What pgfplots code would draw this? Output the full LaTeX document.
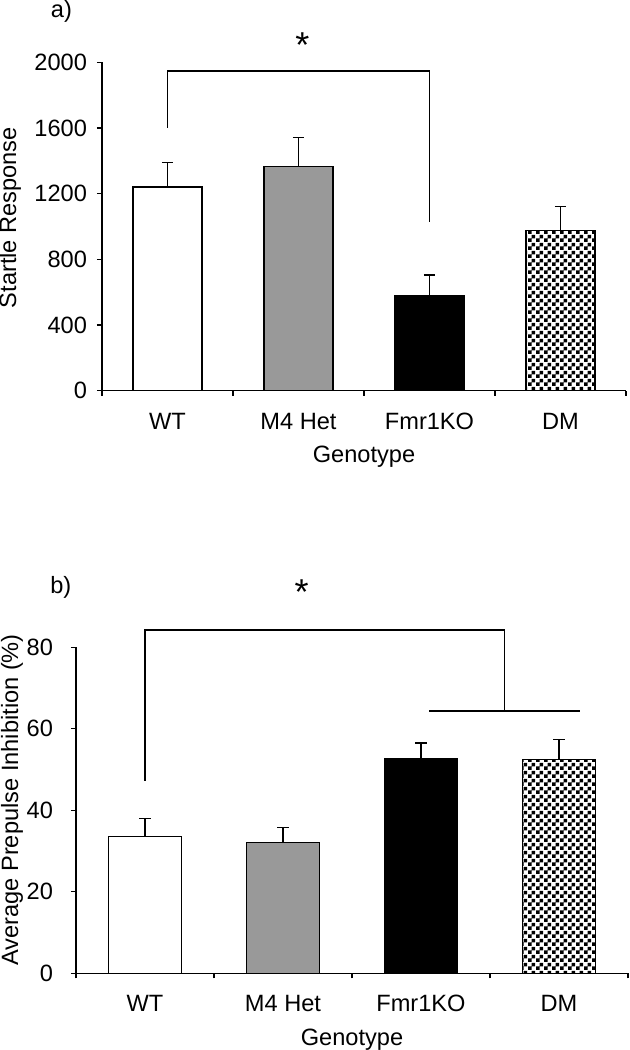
\documentclass[border=0pt]{standalone}
\usepackage{fontspec}
\setmainfont{Liberation Sans}
\usepackage{pgfplots}
\pgfplotsset{compat=1.18}
\usetikzlibrary{patterns}

% small checkerboard, 2pt squares
\pgfdeclarepatternformonly{checker}{\pgfpointorigin}{\pgfqpoint{4pt}{4pt}}{\pgfqpoint{4pt}{4pt}}{%
  \pgfpathrectangle{\pgfpointorigin}{\pgfqpoint{2pt}{2pt}}%
  \pgfpathrectangle{\pgfqpoint{2pt}{2pt}}{\pgfqpoint{2pt}{2pt}}%
  \pgfusepath{fill}}

\definecolor{hetgray}{RGB}{153,153,153}
\newcommand{\lblfont}{\fontsize{11.8}{13}\selectfont}
\newcommand{\starfont}{\fontsize{18}{18}\selectfont}

\pgfplotsset{
  geno/.style={
    scale only axis, ybar, bar width=0.525, bar shift=0pt,
    xmin=-0.5, xmax=3.5, ymin=0,
    axis x line=bottom, axis y line=left,
    axis line style={-, line width=0.6pt},
    xtick={-0.5,0.5,1.5,2.5,3.5}, x tick label as interval,
    xticklabels={WT,M4 Het,Fmr1KO,DM},
    tick align=outside, major tick length=2.5pt,
    tick style={black, line width=0.6pt},
    tick label style={font=\lblfont},
    xticklabel style={yshift=-5pt},
    label style={font=\lblfont},
    /pgf/number format/assume math mode=true,
    /pgf/number format/1000 sep={},
    xlabel={Genotype},
    xlabel style={yshift=-1.5pt},
    error bars/y dir=plus, error bars/y explicit,
    error bars/error bar style={line width=0.65pt, black},
    error bars/error mark options={rotate=90, mark size=2.8pt, line width=0.65pt, black},
    clip=false,
    every axis plot/.append style={draw=black, line width=0.65pt},
  }
}

\begin{document}
\begin{tikzpicture}
\useasboundingbox (0,0) rectangle (314.5pt,-525pt);

% a) startle response
\begin{axis}[geno,
    at={(51pt,-195.35pt)}, anchor=south west,
    width=262pt, height=164.2pt,
    ymax=2000, ytick={0,400,...,2000},
    yticklabel style={xshift=-1.5pt},
    ylabel={Startle Response},
    ylabel style={at={(axis description cs:-0.1756,0.527)}, anchor=center},
]
\addplot[fill=white]   coordinates {(0,1240) +- (0,151)};
\addplot[fill=hetgray] coordinates {(1,1364) +- (0,177)};
\addplot[fill=black]   coordinates {(2,577) +- (0,127)};
\addplot[pattern=checker] coordinates {(3,974) +- (0,147)};
\draw[line width=0.65pt] (axis cs:0,1602) -- (axis cs:0,1947) -- (axis cs:2,1947) -- (axis cs:2,1027);
\node[font=\starfont, anchor=base, inner sep=0pt] at (axis cs:1.03,2028) {*};
\node[font=\lblfont] at (axis cs:-0.81,2308) {a)};
\end{axis}

% b) prepulse inhibition
\begin{axis}[geno,
    at={(38pt,-486.65pt)}, anchor=south west,
    width=276pt, height=163pt,
    ymax=80, ytick={0,20,...,80},
    yticklabel style={xshift=-5.5pt},
    ylabel={Average Prepulse Inhibition (\%)},
    ylabel style={at={(axis description cs:-0.116,0.532)}, anchor=center},
]
\addplot[fill=white]   coordinates {(0,33.5) +- (0,4.5)};
\addplot[fill=hetgray] coordinates {(1,32.1) +- (0,3.7)};
\addplot[fill=black]   coordinates {(2,52.8) +- (0,3.7)};
\addplot[pattern=checker] coordinates {(3,52.4) +- (0,4.9)};
\draw[line width=0.65pt] (axis cs:0,47.3) -- (axis cs:0,84.25) -- (axis cs:2.604,84.25) -- (axis cs:2.604,64.4);
\draw[line width=0.65pt] (axis cs:2.06,64.4) -- (axis cs:3.15,64.4);
\node[font=\starfont, anchor=base, inner sep=0pt] at (axis cs:1.135,90.6) {*};
\node[font=\lblfont] at (axis cs:-0.61,94.8) {b)};
\end{axis}
\end{tikzpicture}
\end{document}
